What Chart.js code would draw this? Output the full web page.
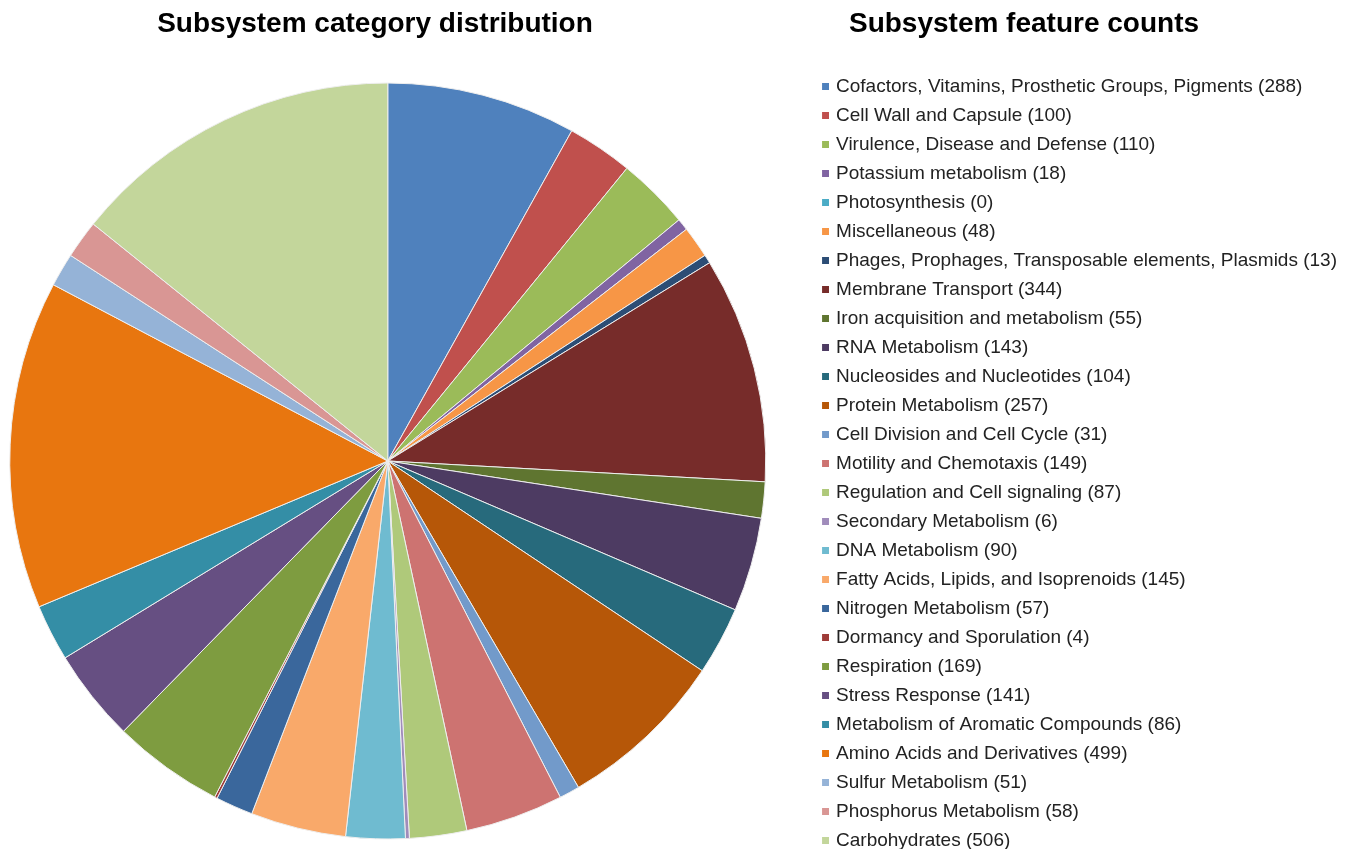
<!DOCTYPE html>
<html>
<head>
<meta charset="utf-8">
<script src="https://cdn.jsdelivr.net/npm/chart.js@4.4.1/dist/chart.umd.min.js"></script>
<style>
  html, body { margin: 0; padding: 0; background: #ffffff; }
  #wrap { position: relative; width: 1354px; height: 849px; }
</style>
</head>
<body>
<div id="wrap"><canvas id="c" width="1354" height="849"></canvas></div>
<script>
const leftTitle = "Subsystem category distribution";
const rightTitle = "Subsystem feature counts";

const categories = [
  "Cofactors, Vitamins, Prosthetic Groups, Pigments",
  "Cell Wall and Capsule",
  "Virulence, Disease and Defense",
  "Potassium metabolism",
  "Photosynthesis",
  "Miscellaneous",
  "Phages, Prophages, Transposable elements, Plasmids",
  "Membrane Transport",
  "Iron acquisition and metabolism",
  "RNA Metabolism",
  "Nucleosides and Nucleotides",
  "Protein Metabolism",
  "Cell Division and Cell Cycle",
  "Motility and Chemotaxis",
  "Regulation and Cell signaling",
  "Secondary Metabolism",
  "DNA Metabolism",
  "Fatty Acids, Lipids, and Isoprenoids",
  "Nitrogen Metabolism",
  "Dormancy and Sporulation",
  "Respiration",
  "Stress Response",
  "Metabolism of Aromatic Compounds",
  "Amino Acids and Derivatives",
  "Sulfur Metabolism",
  "Phosphorus Metabolism",
  "Carbohydrates"
];

const featureCounts = [288, 100, 110, 18, 0, 48, 13, 344, 55, 143, 104, 257, 31, 149, 87, 6, 90, 145, 57, 4, 169, 141, 86, 499, 51, 58, 506];

const sliceColors = [
  "#4F81BD", "#C0504D", "#9BBB59", "#8064A2", "#4BACC6", "#F79646",
  "#2C4D75", "#772C2A", "#5F7530", "#4D3B62", "#276A7C", "#B65708",
  "#729ACA", "#CD7371", "#AFC97A", "#A08CBB", "#6FBBD0", "#F9A96A",
  "#3A679C", "#9E3B38", "#7E9C40", "#664F82", "#348EA6", "#E8760F",
  "#95B3D7", "#D99694", "#C3D69B"
];

// Legend marker: a small square sitting at the right end of a wide, transparent marker cell
function legendMarker(color) {
  const c = document.createElement('canvas');
  c.width = 46; c.height = 7;
  const g = c.getContext('2d');
  g.fillStyle = color;
  g.fillRect(39, 0, 7, 7);
  return c;
}

// Empty layout box used only to set the gap above the pie area
function makeSpacer(position, size) {
  return {
    position: position, weight: 0, fullSize: false,
    options: {},
    left: 0, top: 0, right: 0, bottom: 0, width: 0, height: 0,
    isHorizontal() { return position === 'top' || position === 'bottom'; },
    update(maxWidth, maxHeight) {
      if (this.isHorizontal()) { this.width = maxWidth; this.height = size; }
      else { this.width = size; this.height = maxHeight; }
    },
    draw() {}
  };
}

const spacerPlugin = {
  id: 'spacers',
  beforeInit(chart) {
    Chart.layouts.addBox(chart, makeSpacer('top', 6));
  }
};

const titlePlugin = {
  id: 'twoTitles',
  afterDraw(chart) {
    const ctx = chart.ctx;
    ctx.save();
    ctx.fillStyle = '#000000';
    ctx.font = 'bold 28px "Liberation Sans", Arial, sans-serif';
    ctx.textAlign = 'center';
    ctx.textBaseline = 'middle';
    ctx.fillText(leftTitle, 375, 24);
    ctx.fillText(rightTitle, 1024, 24);
    ctx.restore();
  }
};

const defaultGen = Chart.overrides.doughnut.plugins.legend.labels.generateLabels;
const markers = sliceColors.map(legendMarker);

new Chart(document.getElementById('c'), {
  type: 'pie',
  data: {
    labels: categories,
    datasets: [{
      data: featureCounts,
      backgroundColor: sliceColors,
      borderColor: '#eeeeee',
      borderWidth: 1,
      radius: 378
    }]
  },
  options: {
    responsive: false,
    animation: false,
    devicePixelRatio: 1,
    layout: { padding: { top: 67, bottom: -17, left: 0, right: 7 } },
    plugins: {
      tooltip: { enabled: false },
      legend: {
        position: 'right',
        align: 'start',
        labels: {
          usePointStyle: true,
          pointStyleWidth: 41,
          boxHeight: 7,
          padding: 10,
          color: '#222222',
          font: { family: '"Liberation Sans", Arial, sans-serif', size: 19 },
          generateLabels(chart) {
            const items = defaultGen(chart);
            items.forEach((it, i) => {
              it.text = categories[i] + ' (' + featureCounts[i] + ')';
              it.pointStyle = markers[i];
              it.lineWidth = 0;
              it.strokeStyle = 'rgba(0,0,0,0)';
            });
            return items;
          }
        }
      }
    }
  },
  plugins: [spacerPlugin, titlePlugin]
});
</script>
</body>
</html>
